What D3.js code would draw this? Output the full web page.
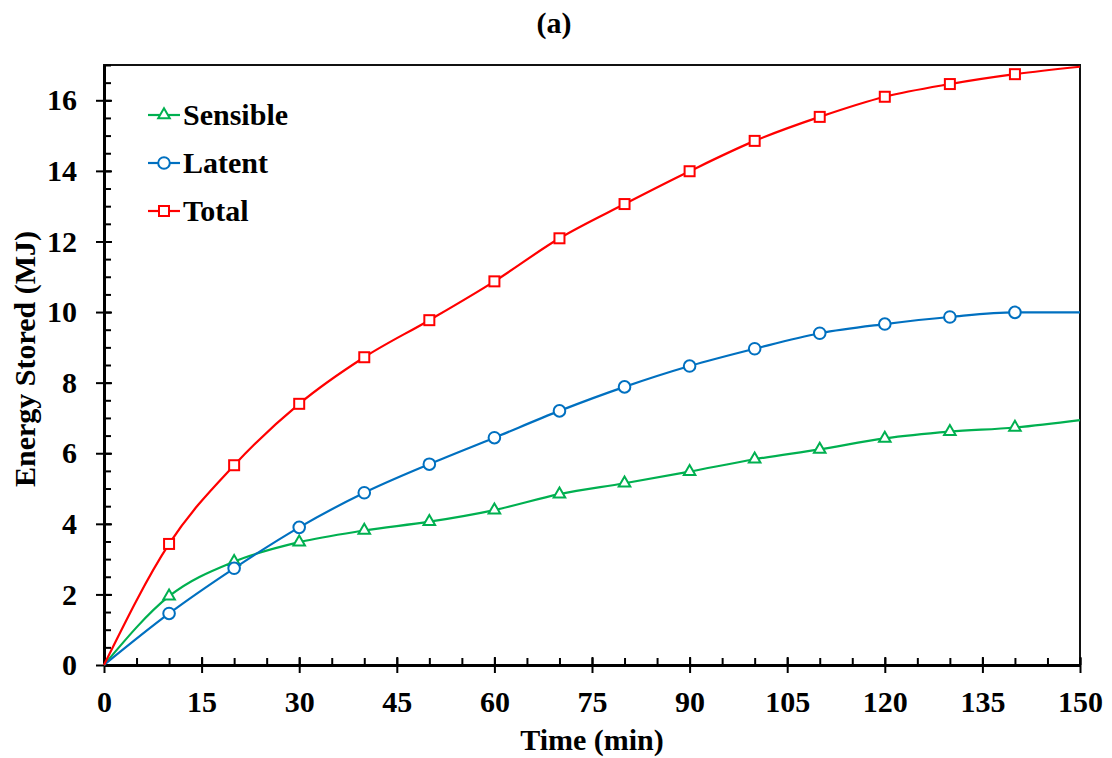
<!DOCTYPE html>
<html>
<head>
<meta charset="utf-8">
<script src="https://cdn.jsdelivr.net/npm/d3@7"></script>
<style>
body { margin: 0; background: #fff; }
text { font-family: "Liberation Serif", "Times New Roman", serif; font-weight: bold; fill: #000; }
</style>
</head>
<body>
<svg id="chart" width="1112" height="758"></svg>
<script>
// data (time in min, energy in MJ)
const times = [0, 10, 20, 30, 40, 50, 60, 70, 80, 90, 100, 110, 120, 130, 140, 150];
const sensible = [0, 1.95, 2.93, 3.48, 3.81, 4.06, 4.39, 4.84, 5.15, 5.48, 5.83, 6.11, 6.42, 6.61, 6.73, 6.94];
const latent = [0, 1.46, 2.74, 3.90, 4.88, 5.69, 6.44, 7.20, 7.88, 8.47, 8.96, 9.40, 9.66, 9.86, 9.99, 9.99];
const total = [0, 3.43, 5.66, 7.40, 8.72, 9.77, 10.87, 12.09, 13.06, 13.99, 14.85, 15.53, 16.10, 16.46, 16.74, 16.95];
const xTicks = [0, 15, 30, 45, 60, 75, 90, 105, 120, 135, 150];
const yTicks = [0, 2, 4, 6, 8, 10, 12, 14, 16];
const seriesNames = ['Sensible', 'Latent', 'Total'];

document.addEventListener('DOMContentLoaded', () => {
    const svg = d3.select('#chart');
    const left = 104, right = 1080, top = 65, bottom = 665;

    const x = d3.scaleLinear().domain([0, 150]).range([left, right]);
    const y = d3.scaleLinear().domain([0, 17]).range([bottom, top]);

    const series = [
        {name: seriesNames[0], values: sensible, color: '#00B050', marker: 'triangle'},
        {name: seriesNames[1], values: latent, color: '#0070C0', marker: 'circle'},
        {name: seriesNames[2], values: total, color: '#FF0000', marker: 'square'}
    ];

    // title
    svg.append('text')
        .attr('x', 554).attr('y', 33)
        .attr('text-anchor', 'middle')
        .style('font-size', '30px')
        .text('(a)');

    // frame
    svg.append('rect')
        .attr('x', left).attr('y', top)
        .attr('width', right - left).attr('height', bottom - top)
        .attr('fill', 'none').attr('stroke', '#111').attr('stroke-width', 2);

    // minor ticks (inside)
    svg.append('g')
        .attr('transform', `translate(0,${bottom})`)
        .call(d3.axisBottom(x).tickValues(d3.range(0, 151, 5)).tickSize(-7).tickFormat(''))
        .call(g => g.select('.domain').remove());
    svg.append('g')
        .attr('transform', `translate(${left},0)`)
        .call(d3.axisLeft(y).tickValues(d3.range(0, 17.01, 0.5)).tickSize(-7).tickFormat(''))
        .call(g => g.select('.domain').remove());

    // major ticks inside
    svg.append('g')
        .attr('transform', `translate(0,${bottom})`)
        .call(d3.axisBottom(x).tickValues(xTicks).tickSize(-8).tickFormat(''))
        .call(g => g.select('.domain').remove());
    svg.append('g')
        .attr('transform', `translate(${left},0)`)
        .call(d3.axisLeft(y).tickValues(yTicks).tickSize(-8).tickFormat(''))
        .call(g => g.select('.domain').remove());

    // major ticks outside + labels
    const xAxis = svg.append('g')
        .attr('transform', `translate(0,${bottom})`)
        .call(d3.axisBottom(x).tickValues(xTicks).tickSizeInner(8).tickSizeOuter(0).tickPadding(18));
    const yAxis = svg.append('g')
        .attr('transform', `translate(${left},0)`)
        .call(d3.axisLeft(y).tickValues(yTicks).tickSizeInner(8).tickSizeOuter(0).tickPadding(19));

    svg.selectAll('.tick line').attr('stroke', '#000').attr('stroke-width', 2);
    [xAxis, yAxis].forEach(a => {
        a.select('.domain').attr('stroke', '#000').attr('stroke-width', 3);
        a.selectAll('text')
            .style('font-family', '"Liberation Serif", "Times New Roman", serif')
            .style('font-weight', 'bold')
            .style('font-size', '30px')
            .attr('fill', '#000');
    });

    // axis titles
    svg.append('text')
        .attr('x', 592).attr('y', 750)
        .attr('text-anchor', 'middle')
        .style('font-size', '30px')
        .text('Time (min)');
    svg.append('text')
        .attr('transform', 'translate(35,359) rotate(-90)')
        .attr('text-anchor', 'middle')
        .style('font-size', '30px')
        .text('Energy Stored (MJ)');

    const line = d3.line()
        .x((d, i) => x(times[i]))
        .y(d => y(d))
        .curve(d3.curveMonotoneX);

    function drawMarker(g, type, color, cx, cy) {
        if (type === 'square') {
            g.append('rect')
                .attr('x', cx - 5).attr('y', cy - 5)
                .attr('width', 10).attr('height', 10)
                .attr('fill', '#fff').attr('stroke', color).attr('stroke-width', 2);
        } else if (type === 'circle') {
            g.append('circle')
                .attr('cx', cx).attr('cy', cy).attr('r', 5.8)
                .attr('fill', '#fff').attr('stroke', color).attr('stroke-width', 2);
        } else {
            g.append('path')
                .attr('d', d3.symbol().type(d3.symbolTriangle).size(58)())
                .attr('transform', `translate(${cx},${cy})`)
                .attr('fill', '#fff').attr('stroke', color).attr('stroke-width', 2);
        }
    }

    series.forEach(s => {
        svg.append('path')
            .datum(s.values)
            .attr('fill', 'none')
            .attr('stroke', s.color)
            .attr('stroke-width', 2.2)
            .attr('d', line);

        const mg = svg.append('g');
        s.values.forEach((v, i) => {
            if (times[i] === 0 || times[i] === 150) return;
            drawMarker(mg, s.marker, s.color, x(times[i]), y(v));
        });
    });

    // legend
    const legend = svg.append('g');
    series.forEach((s, i) => {
        const cy = 115 + i * 48;
        legend.append('line')
            .attr('x1', 148).attr('x2', 180)
            .attr('y1', cy).attr('y2', cy)
            .attr('stroke', s.color).attr('stroke-width', 2.2);
        drawMarker(legend, s.marker, s.color, 164, cy);
        legend.append('text')
            .attr('x', 183).attr('y', cy + 10)
            .style('font-size', '30px')
            .text(s.name);
    });
});
</script>
</body>
</html>
